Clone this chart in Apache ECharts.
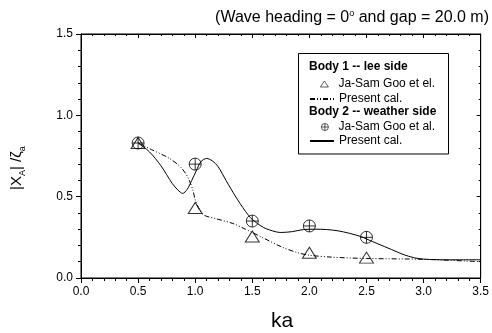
<!DOCTYPE html>
<html>
<head>
<meta charset="utf-8">
<script src="https://cdn.jsdelivr.net/npm/echarts@6/dist/echarts.min.js"></script>
<style>
  html, body { margin: 0; padding: 0; background: #fff; }
  #chart { width: 492px; height: 333px; }
</style>
</head>
<body>
<div id="chart"></div>
<script>
// measured points (ka)
const kaPts = [0.5, 1.0, 1.5, 2.0, 2.5]
const body1Goo = [0.83, 0.43, 0.255, 0.155, 0.125]
const body2Goo = [0.83, 0.70, 0.35, 0.32, 0.25]

// present calculation, body 1 (lee side), dash-dot
const body1CalKa = [0.5, 0.63, 0.775, 0.875, 0.935, 0.98, 1.0, 1.04, 1.08, 1.18, 1.33, 1.44, 1.5, 1.6, 1.76, 1.9, 2.0, 2.2, 2.5, 3.0, 3.5]
const body1Cal = [0.83, 0.785, 0.735, 0.68, 0.62, 0.54, 0.48, 0.415, 0.385, 0.365, 0.335, 0.30, 0.28, 0.245, 0.19, 0.155, 0.14, 0.128, 0.12, 0.115, 0.10]

// present calculation, body 2 (weather side), solid
const body2CalKa = [0.5, 0.6, 0.7, 0.8, 0.85, 0.89, 0.93, 0.97, 1.01, 1.05, 1.1, 1.15, 1.2, 1.27, 1.35, 1.44, 1.5, 1.6, 1.7, 1.75, 1.85, 1.95, 2.05, 2.15, 2.25, 2.35, 2.45, 2.5, 2.6, 2.72, 2.82, 2.92, 3.0, 3.1, 3.2, 3.35, 3.5]
const body2Cal = [0.83, 0.775, 0.69, 0.58, 0.54, 0.52, 0.545, 0.60, 0.66, 0.715, 0.735, 0.72, 0.685, 0.60, 0.505, 0.41, 0.36, 0.31, 0.285, 0.28, 0.285, 0.298, 0.30, 0.298, 0.29, 0.275, 0.255, 0.24, 0.21, 0.175, 0.145, 0.124, 0.116, 0.113, 0.112, 0.112, 0.112]

const FONT = "'Liberation Sans', Arial, sans-serif"
const circlePlus = 'path://M0,-10A10,10,0,1,1,0,10A10,10,0,1,1,0,-10ZM-10,0L10,0M0,-10L0,10'

const pairs = (xs, ys) => xs.map((x, i) => [x, ys[i]])

const chart = echarts.init(document.getElementById('chart'))

// main axes: bottom / left, ticks outside, labelled
function mainAxis(position, max) {
  return {
    type: 'value', position, min: 0, max, interval: 0.5,
    axisLine: { show: true, onZero: false, lineStyle: { color: '#000', width: 1 } },
    splitLine: { show: false },
    axisTick: { show: true, length: 5 },
    minorTick: { show: true, splitNumber: 5, length: 3 },
    axisLabel: { color: '#000', fontFamily: FONT, fontSize: 12, margin: 8, formatter: v => v.toFixed(1) },
  }
}

// mirror axes: top / right, ticks inside, no labels
function mirrorAxis(position, max) {
  return {
    type: 'value', position, min: 0, max, interval: 0.5,
    axisLine: { show: true, onZero: false, lineStyle: { color: '#000' } },
    splitLine: { show: false },
    axisTick: { show: true, inside: true, length: 4 },
    minorTick: { show: true, splitNumber: 5, length: 2 },
    axisLabel: { formatter: () => '' },
  }
}

function oneLegend(name, left, top, w, h, gap, hideSymbol) {
  const l = {
    data: [name],
    orient: 'vertical',
    left, top,
    padding: 0,
    itemWidth: w, itemHeight: h,
    selectedMode: false,
    textStyle: { fontFamily: FONT, fontSize: 12, color: '#000', lineHeight: 14, padding: [0, 0, 0, gap] },
  }
  if (hideSymbol) {
    l.formatter = () => 'Present cal.'
    l.itemStyle = { color: 'rgba(0,0,0,0)', borderColor: 'rgba(0,0,0,0)', borderWidth: 0 }
  } else {
    l.itemStyle = { color: 'rgba(255,255,255,0)', borderColor: '#000', borderWidth: 0.8 }
  }
  return l
}

chart.setOption({
  animation: false,
  backgroundColor: '#fff',
  grid: { left: 81, right: 9, top: 34, bottom: 55, show: true, borderColor: '#000', borderWidth: 1, backgroundColor: 'transparent' },
  xAxis: [mainAxis('bottom', 3.5), mirrorAxis('top', 3.5)],
  yAxis: [mainAxis('left', 1.5), mirrorAxis('right', 1.5)],
  legend: [
    oneLegend('Ja-Sam Goo et el.', 320, 77, 8, 6, 5, false),
    oneLegend('Body 1 cal', 309, 92, 24, 6, 0, true),
    oneLegend('Ja-Sam Goo et al.', 321, 120, 7, 7, 5, false),
    oneLegend('Body 2 cal', 309, 134, 24, 6, 0, true),
  ],
  graphic: [
    {
      type: 'rect', z: 3,
      shape: { x: 298.5, y: 53.5, width: 150, height: 100.5 },
      style: { fill: '#fff', stroke: '#000', lineWidth: 1 },
    },
    {
      type: 'text', z: 4, left: 309, top: 61,
      style: { text: 'Body 1 -- lee side', font: "bold 12px 'Liberation Sans', Arial", fill: '#000' },
    },
    {
      type: 'text', z: 4, left: 309, top: 106,
      style: { text: 'Body 2 -- weather side', font: "bold 12px 'Liberation Sans', Arial", fill: '#000' },
    },
    {
      type: 'text', right: 3, top: 9,
      style: {
        text: '(Wave heading = 0{sup|o} and gap = 20.0 m)',
        fontFamily: FONT, fontSize: 16, fill: '#000',
        rich: { sup: { fontFamily: FONT, fontSize: 9, verticalAlign: 'top', lineHeight: 18 } },
      },
    },
    {
      type: 'text', x: 17, y: 168, rotation: Math.PI / 2,
      style: {
        text: '|X{sub|A}| /ζ{sub|a}',
        fontFamily: FONT, fontSize: 15, fill: '#000', lineHeight: 20,
        align: 'center', verticalAlign: 'middle',
        rich: { sub: { fontFamily: FONT, fontSize: 9, verticalAlign: 'bottom', lineHeight: 20 } },
      },
    },
    {
      type: 'text', x: 282, y: 321,
      style: { text: 'ka', fontFamily: FONT, fontSize: 21, fill: '#000', align: 'center', verticalAlign: 'middle' },
    },
  ],
  series: [
    {
      name: 'Body 1 cal', type: 'line', data: pairs(body1CalKa, body1Cal),
      smooth: 0.3, symbol: 'none', z: 2,
      lineStyle: { color: '#000', width: 1, type: [5, 2, 1, 2, 1, 2] },
      itemStyle: { color: '#000' },
    },
    {
      name: 'Body 2 cal', type: 'line', data: pairs(body2CalKa, body2Cal),
      xAxisIndex: 1, yAxisIndex: 1,
      smooth: 0.3, symbol: 'none', z: 2,
      lineStyle: { color: '#000', width: 1 },
      itemStyle: { color: '#000' },
    },
    {
      name: 'Ja-Sam Goo et el.', type: 'scatter', data: pairs(kaPts, body1Goo),
      symbol: 'triangle', symbolSize: [14, 11], z: 3,
      itemStyle: { color: 'rgba(255,255,255,0)', borderColor: '#000', borderWidth: 1 },
    },
    {
      name: 'Ja-Sam Goo et al.', type: 'scatter', data: pairs(kaPts, body2Goo),
      xAxisIndex: 1, yAxisIndex: 1,
      symbol: circlePlus, symbolSize: 12, z: 3,
      itemStyle: { color: 'rgba(255,255,255,0)', borderColor: '#000', borderWidth: 1 },
    },
  ],
})
</script>
</body>
</html>
